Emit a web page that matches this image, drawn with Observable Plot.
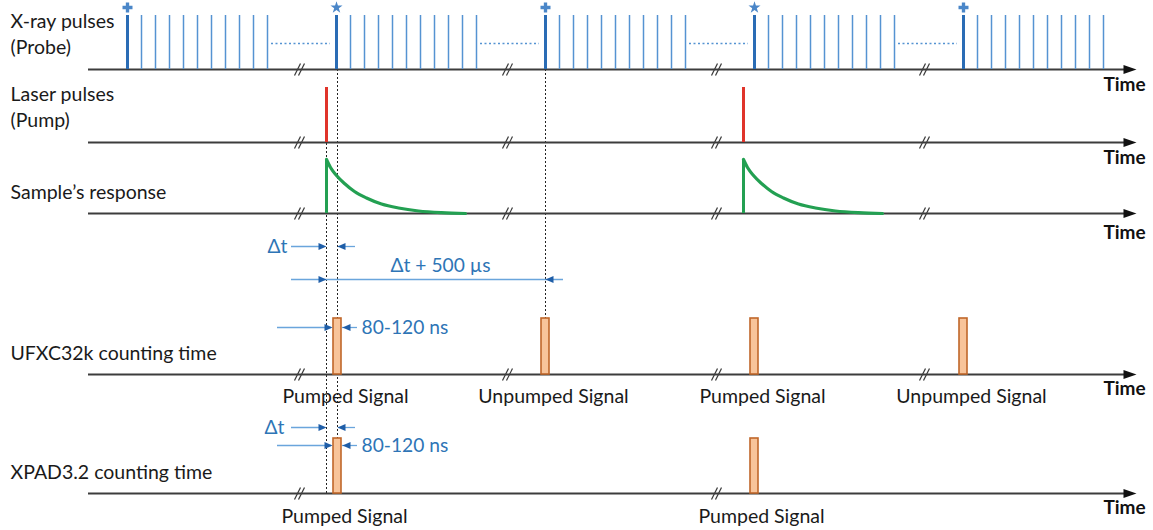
<!DOCTYPE html>
<html><head><meta charset="utf-8">
<script src="https://cdn.jsdelivr.net/npm/d3@7"></script>
<script src="https://cdn.jsdelivr.net/npm/@observablehq/plot@0.6"></script>
<style>html,body{margin:0;padding:0;background:#fff;} #chart svg{display:block}</style>
</head><body><div id="chart"></div>
<script>
// ---------------- data (schematic time units) ----------------
const rowLabels = ["X-ray pulses", "Laser pulses", "Sample’s response", "UFXC32k counting time", "XPAD3.2 counting time"];
const rowSubLabels = ["(Probe)", "(Pump)", "", "", ""];
const axisLabel = "Time";
const xrayBunchStarts = [127, 336, 545, 754, 963];
const xrayBunchMarkers = ["cross", "star", "cross", "star", "cross"];
const xrayPulseOffsets = [0, 14, 28, 42, 56, 70, 84, 98, 112, 126, 140];
const timeBreaks = [300, 508, 717, 925];
const xpadBreaks = [300, 717];
const laserTimes = [326, 743];
const decayTimes = [0, 4, 10, 18, 28, 40, 55, 72, 92, 115, 139];
const decayLevels = [54, 46, 38, 30, 22, 15.5, 9.5, 5.5, 2.5, 0.8, 0];
const ufxcGates = [337, 545, 754, 963];
const ufxcLabels = ["Pumped Signal", "Unpumped Signal", "Pumped Signal", "Unpumped Signal"];
const xpadGates = [337, 754];
const xpadLabels = ["Pumped Signal", "Pumped Signal"];
const gateDuration = 8;
const guideTimes = [326, 337, 545];
const deltaLabel = "Δt";
const periodLabel = "Δt + 500 µs";
const gateLabel = "80-120 ns";

// ---------------- layout / style ----------------
const W = 1153, H = 530;
const base = [69, 142, 213, 374, 493];
const axisStart = 88, axisTip = 1136;
const pulseHeight = 54, laserHeight = 55, gateHeight = [56, 55];
const blueThin = "#5593d2", blueThick = "#2a6cb5", blueText = "#2e75b6", blueLine = "#6aa5dc", blueHead = "#1f5ea8";
const font = "Lato, 'Open Sans', sans-serif";
const labelSize = 19.5, blueSize = 19.2;

function tri(id, tipX, tipY, dir, len, half) {
  return [
    {id, x: tipX, y: tipY},
    {id, x: tipX - dir * len, y: tipY - half},
    {id, x: tipX - dir * len, y: tipY + half}
  ];
}

const marks = [];

// dotted guide lines
const guideSpans = [[87, 493], [69, 493], [69, 318]];
marks.push(Plot.ruleX(guideTimes.map((t, i) => ({t, y1: guideSpans[i][0], y2: guideSpans[i][1]})),
  {x: "t", y1: "y1", y2: "y2", stroke: "#222", strokeWidth: 1, strokeDasharray: "2,2"}));

// axis lines
marks.push(Plot.ruleY(base, {y: d => d, x1: axisStart, x2: axisTip - 8, stroke: "#3c3c3c", strokeWidth: 2}));
let axisHeads = [];
base.forEach((b, i) => axisHeads.push(...tri("a" + i, axisTip, b, 1, 13, 4.5)));
marks.push(Plot.line(axisHeads, {x: "x", y: "y", z: "id", fill: "#111", stroke: "none", curve: "linear-closed"}));

// break marks
const breaks = [];
base.forEach((b, i) => (i === 4 ? xpadBreaks : timeBreaks).forEach(t => {
  breaks.push({x1: t - 6, y1: b + 6, x2: t, y2: b - 6});
  breaks.push({x1: t - 2, y1: b + 6, x2: t + 4, y2: b - 6});
}));
marks.push(Plot.link(breaks, {x1: "x1", y1: "y1", x2: "x2", y2: "y2", stroke: "#3c3c3c", strokeWidth: 1.2}));

// X-ray pulses
const thin = [], thick = [];
xrayBunchStarts.forEach(s => xrayPulseOffsets.forEach((o, k) => (k === 0 ? thick : thin).push(s + o)));
marks.push(Plot.ruleX(thin, {x: d => d, y1: base[0] - pulseHeight, y2: base[0], stroke: blueThin, strokeWidth: 1.5}));
marks.push(Plot.ruleX(thick, {x: d => d, y1: base[0] - pulseHeight, y2: base[0], stroke: blueThick, strokeWidth: 3}));
const gaps = xrayBunchStarts.slice(0, -1).map((s, i) => ({x1: s + xrayPulseOffsets[xrayPulseOffsets.length - 1] + 4, x2: xrayBunchStarts[i + 1] - 6}));
marks.push(Plot.ruleY(gaps, {y: base[0] - 26, x1: "x1", x2: "x2", stroke: blueThin, strokeWidth: 1.6, strokeDasharray: "2,2.5"}));
const markerData = xrayBunchStarts.map((s, i) => ({s, m: xrayBunchMarkers[i]}));
marks.push(Plot.dot(markerData.filter(d => d.m === "cross"), {x: "s", y: 7, symbol: "cross", r: 4.2, fill: "#4a86c8", stroke: "none"}));
marks.push(Plot.dot(markerData.filter(d => d.m === "star"), {x: "s", y: 7, symbol: "star", r: 3.8, fill: "#4a86c8", stroke: "none"}));

// laser pulses
marks.push(Plot.ruleX(laserTimes, {x: d => d, y1: base[1] - laserHeight, y2: base[1], stroke: "#e0342a", strokeWidth: 3}));

// sample response
marks.push(Plot.ruleX(laserTimes, {x: d => d, y1: base[2] - decayLevels[0], y2: base[2], stroke: "#23a052", strokeWidth: 3}));
const decay = [];
laserTimes.forEach((t0, j) => decayTimes.forEach((dt, k) => decay.push({id: j, x: t0 + dt, y: base[2] - decayLevels[k]})));
marks.push(Plot.line(decay, {x: "x", y: "y", z: "id", stroke: "#23a052", strokeWidth: 3.2, curve: "monotone-x"}));

// counting gates
const gates = ufxcGates.map(g => ({x1: g - gateDuration / 2, x2: g + gateDuration / 2, y1: base[3] - gateHeight[0], y2: base[3]}))
  .concat(xpadGates.map(g => ({x1: g - gateDuration / 2, x2: g + gateDuration / 2, y1: base[4] - gateHeight[1], y2: base[4]})));
marks.push(Plot.rect(gates, {x1: "x1", x2: "x2", y1: "y1", y2: "y2", fill: "#f8c49a", stroke: "#c0672a", strokeWidth: 1.6}));

// annotation lines
const annLines = [
  {x1: 291, x2: 324, y: 246}, {x1: 338, x2: 355, y: 246},
  {x1: 291, x2: 563, y: 279},
  {x1: 277, x2: 331, y: 327}, {x1: 342, x2: 357, y: 327},
  {x1: 291, x2: 324, y: 427}, {x1: 338, x2: 355, y: 427},
  {x1: 277, x2: 331, y: 445}, {x1: 342, x2: 357, y: 445}
];
marks.push(Plot.ruleY(annLines, {y: "y", x1: "x1", x2: "x2", stroke: blueLine, strokeWidth: 1.3}));
const heads = [
  ...tri("h1", guideTimes[0], 246, 1, 8, 3.5), ...tri("h2", guideTimes[1], 246, -1, 8, 3.5),
  ...tri("h3", guideTimes[0], 279, 1, 8, 3.5), ...tri("h4", guideTimes[2], 279, -1, 8, 3.5),
  ...tri("h5", ufxcGates[0] - gateDuration / 2 - 1, 327, 1, 8, 3.5), ...tri("h6", ufxcGates[0] + gateDuration / 2 + 1, 327, -1, 8, 3.5),
  ...tri("h7", guideTimes[0], 427, 1, 8, 3.5), ...tri("h8", guideTimes[1], 427, -1, 8, 3.5),
  ...tri("h9", xpadGates[0] - gateDuration / 2 - 1, 445, 1, 8, 3.5), ...tri("h10", xpadGates[0] + gateDuration / 2 + 1, 445, -1, 8, 3.5)
];
marks.push(Plot.line(heads, {x: "x", y: "y", z: "id", fill: blueHead, stroke: "none", curve: "linear-closed"}));

// annotation texts
marks.push(Plot.text([
  {t: deltaLabel, x: 267, y: 246}, {t: deltaLabel, x: 264, y: 427}
], {x: "x", y: "y", text: "t", textAnchor: "start", fill: blueText, fontSize: blueSize, fontFamily: font}));
marks.push(Plot.text([{t: periodLabel, x: 440, y: 265}], {x: "x", y: "y", text: "t", fill: blueText, fontSize: blueSize, fontFamily: font}));
marks.push(Plot.text([
  {t: gateLabel, x: 361, y: 327}, {t: gateLabel, x: 361, y: 445}
], {x: "x", y: "y", text: "t", textAnchor: "start", fill: blueText, fontSize: blueSize, fontFamily: font}));

// row labels
const labelY = [[21, 47], [94, 120], [192], [353], [472]];
const rowText = [];
rowLabels.forEach((l, i) => {
  rowText.push({t: l, y: labelY[i][0]});
  if (rowSubLabels[i]) rowText.push({t: rowSubLabels[i], y: labelY[i][1]});
});
marks.push(Plot.text(rowText, {x: 10, y: "y", text: "t", textAnchor: "start", fill: "#1a1a1a", fontSize: labelSize, fontFamily: font}));

// time labels
const timeY = [84, 157, 232, 388, 507];
marks.push(Plot.text(timeY, {x: 1124, y: d => d, text: () => axisLabel, fill: "#111", fontSize: 19, fontWeight: "bold", fontFamily: font}));

// signal labels
const sig = ufxcGates.map((g, i) => ({x: g + 8, y: 396, t: ufxcLabels[i]}))
  .concat(xpadGates.map((g, i) => ({x: g + 7, y: 516, t: xpadLabels[i]})));
marks.push(Plot.text(sig, {x: "x", y: "y", text: "t", fill: "#1a1a1a", fontSize: labelSize, fontFamily: font}));

const chart = Plot.plot({
  width: W, height: H,
  margin: 0,
  x: {domain: [0, W], range: [0, W], axis: null},
  y: {domain: [0, H], range: [0, H], axis: null},
  style: {background: "#fff", fontFamily: font, overflow: "visible"},
  marks
});
document.getElementById("chart").appendChild(chart);
</script>
</body></html>
